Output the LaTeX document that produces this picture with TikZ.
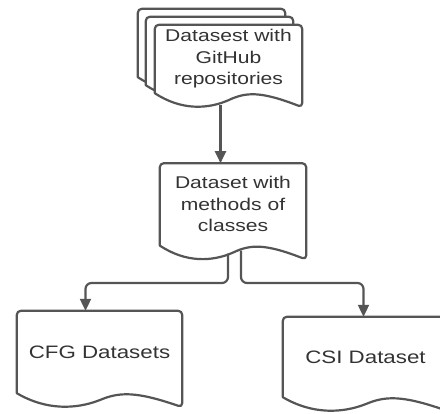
\documentclass[tikz,border=0pt]{standalone}
\usepackage{fontspec}
\setmainfont{Liberation Sans}[FakeStretch=1.24]
\usetikzlibrary{arrows.meta,positioning,calc}
\pgfdeclarelayer{background}
\pgfsetlayers{background,main}
\definecolor{linegray}{HTML}{555555}
\definecolor{textgray}{HTML}{333333}

% document outline behind a node: #1 = offset, #2 = node
\newcommand{\docshape}[2][0,0]{%
  \begin{pgfonlayer}{background}
    \draw[docline]
      ($(#2.south west)+(#1)$) [rounded corners=4pt]
      -- ($(#2.north west)+(#1)$) -- ($(#2.north east)+(#1)$)
      -- ($(#2.south east)+(#1)+(0,-14)$) [sharp corners]
      .. controls ($(#2.south west)!0.72!(#2.south east)+(#1)+(0,2)$)
      and ($(#2.south west)!0.62!(#2.south east)+(#1)+(0,1.4)$)
      .. ($(#2.south west)!0.5!(#2.south east)+(#1)+(0,-7)$)
      .. controls ($(#2.south west)!0.36!(#2.south east)+(#1)+(0,-16)$)
      and ($(#2.south west)!0.18!(#2.south east)+(#1)+(0,-17.5)$)
      .. cycle;
  \end{pgfonlayer}}

\begin{document}
\begin{tikzpicture}[x=1pt, y=1pt,
  font=\fontsize{17}{21.5}\selectfont, text=textgray,
  docbody/.style={align=center, inner sep=1pt},
  docline/.style={draw=linegray, line width=2.2pt, fill=white, line join=round},
  arr/.style={-{Triangle[length=12pt,width=11pt]}, draw=linegray, line width=2.2pt, rounded corners=6pt}
]
\useasboundingbox (0,0) rectangle (440,414);
\node[docbody, minimum width=147pt, minimum height=68pt] (repos) at (228.5,355) {Datasest with\\GitHub\\repositories};
\node[docbody, minimum width=146pt, minimum height=82pt, below=70pt of repos, xshift=4.5pt] (methods) {Dataset with\\methods of\\classes};
\node[docbody, minimum width=165pt, minimum height=82pt, font=\fontsize{18}{22}\selectfont] (cfg) at (99.5,62) {CFG Datasets};
\node[docbody, minimum width=165pt, minimum height=80pt, font=\fontsize{18}{22}\selectfont] (csi) at (365.5,57) {CSI Dataset};
\coordinate (split) at (233,131);

\docshape[-17,16]{repos}
\docshape[-9,8]{repos}
\docshape{repos}
\docshape{methods}
\docshape{cfg}
\docshape{csi}

\draw[arr] ([xshift=-8pt,yshift=-12pt]repos.south) -- ([xshift=-8pt]repos.south |- methods.north);
\draw[arr] ([xshift=-5pt,yshift=-8pt]methods.south) -- ([xshift=-5pt]methods.south |- split) -| ([xshift=-14pt]cfg.north);
\draw[arr] ([xshift=8pt,yshift=-5pt]methods.south) -- ([xshift=8pt]methods.south |- split) -| ([xshift=-2pt]csi.north);
\end{tikzpicture}
\end{document}
